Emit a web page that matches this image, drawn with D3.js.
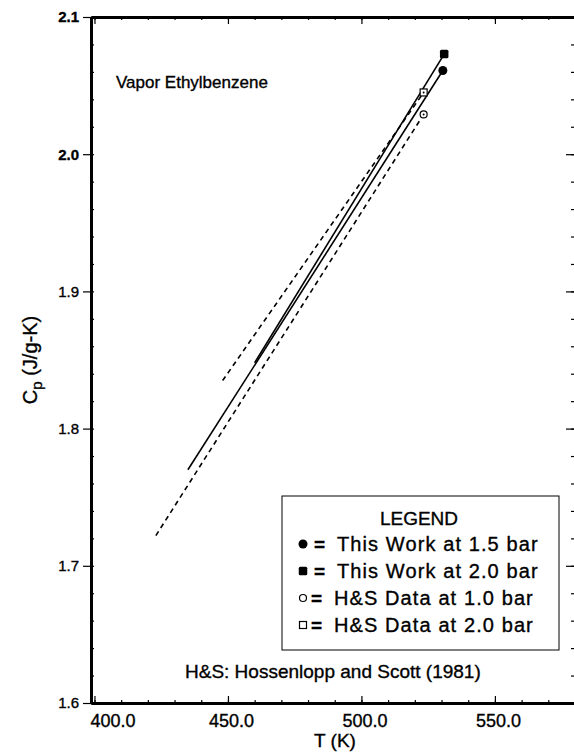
<!DOCTYPE html>
<html lang="en">
<head>
    <meta charset="UTF-8">
    <title>Vapor Ethylbenzene Cp</title>
    <script src="https://d3js.org/d3.v7.min.js"></script>
    <style>
        body { margin: 0; background: #fff; }
        svg { display: block; font-family: "Liberation Sans", Arial, sans-serif; }
        svg text { fill: #000; stroke: #000; stroke-width: 0.35px; }
        .domain { stroke: #000; stroke-width: 3px; }
        .tick line { stroke: #000; stroke-width: 1.2px; }
        .line { fill: none; stroke: #000; stroke-width: 1.6px; }
        .dashed { stroke-dasharray: 5,4; }
    </style>
</head>
<body>
    <svg id="chart" width="574" height="752"></svg>

    <script>
        // series: [start, end] for T (K) and Cp (J/g-K)
        const twT15 = [435, 530.5];
        const twCp15 = [1.770, 2.061];
        const twT20 = [460, 531];
        const twCp20 = [1.848, 2.073];
        const hsT10 = [423, 523.3];
        const hsCp10 = [1.722, 2.029];
        const hsT20 = [448, 523.3];
        const hsCp20 = [1.835, 2.045];

        const legendLabels = ["This Work at 1.5 bar", "This Work at 2.0 bar",
                              "H&S Data at 1.0 bar", "H&S Data at 2.0 bar"];
        const xTicks = [400, 450, 500, 550];
        const xMinor = d3.range(400, 581, 10);
        const yTicks = [1.6, 1.7, 1.8, 1.9, 2.0, 2.1];
        const yMinor = d3.range(1.6, 2.1001, 0.02);

        const margin = {top: 17, right: 0, bottom: 49, left: 91};
        const width = 575 - margin.left;
        const height = 703 - margin.top;

        const x = d3.scaleLinear().domain([398.7, 580]).range([0, width]);
        const y = d3.scaleLinear().domain([1.6, 2.1]).range([height, 0]);

        const svg = d3.select("#chart");
        const g = svg.append("g").attr("transform", `translate(${margin.left},${margin.top})`);

        // minor ticks (inside the frame)
        g.append("g").attr("transform", `translate(0,${height})`)
            .call(d3.axisBottom(x).tickValues(xMinor).tickSize(-3).tickSizeOuter(0).tickFormat(""));
        g.append("g")
            .call(d3.axisTop(x).tickValues(xMinor).tickSize(-3).tickSizeOuter(0).tickFormat(""));
        g.append("g")
            .call(d3.axisLeft(y).tickValues(yMinor).tickSize(-3).tickSizeOuter(0).tickFormat(""));
        // right side: frame edge falls just outside the picture, only ticks show
        const rMinor = g.append("g").attr("transform", `translate(${width},0)`)
            .call(d3.axisRight(y).tickValues(yMinor).tickSize(-4).tickSizeOuter(0).tickFormat(""));
        rMinor.select(".domain").remove();

        // major ticks
        const xAxis = g.append("g").attr("transform", `translate(0,${height})`)
            .call(d3.axisBottom(x).tickValues(xTicks).tickSize(-7).tickSizeOuter(0)
                .tickPadding(11).tickFormat(d3.format(".1f")));
        xAxis.selectAll("text").attr("font-size", 18).attr("font-family", null).attr("dx", 3);
        xAxis.selectAll("text").filter(d => d === 400).attr("dx", 18);

        g.append("g")
            .call(d3.axisTop(x).tickValues(xTicks).tickSize(-7).tickSizeOuter(0).tickFormat(""));

        const yAxis = g.append("g")
            .call(d3.axisLeft(y).tickValues(yTicks).tickSize(8).tickSizeOuter(0)
                .tickPadding(4).tickFormat(d3.format(".1f")));
        yAxis.selectAll("text").attr("font-size", 15).attr("font-family", null)
            .attr("font-weight", d => d >= 2.0 ? "bold" : null);

        const rMajor = g.append("g").attr("transform", `translate(${width},0)`)
            .call(d3.axisRight(y).tickValues(yTicks).tickSize(-9).tickSizeOuter(0).tickFormat(""));
        rMajor.select(".domain").remove();

        // lines
        const line = d3.line().x(d => x(d[0])).y(d => y(d[1]));
        const series = [
            {T: twT15, Cp: twCp15, dashed: false, sym: "circle", fill: true},
            {T: twT20, Cp: twCp20, dashed: false, sym: "square", fill: true},
            {T: hsT10, Cp: hsCp10, dashed: true, sym: "circle", fill: false},
            {T: hsT20, Cp: hsCp20, dashed: true, sym: "square", fill: false}
        ];

        function drawSymbol(sel, s, cx, cy) {
            if (s.sym === "circle") {
                sel.append("circle").attr("cx", cx).attr("cy", cy)
                    .attr("r", s.fill ? 4.5 : 3.5)
                    .attr("fill", s.fill ? "#000" : "#fff")
                    .attr("stroke", "#000").attr("stroke-width", s.fill ? 0 : 1.2);
            } else {
                const sz = s.fill ? 8.5 : 7;
                sel.append("rect").attr("x", cx - sz / 2).attr("y", cy - sz / 2)
                    .attr("width", sz).attr("height", sz)
                    .attr("rx", s.fill ? 1.5 : 0)
                    .attr("fill", s.fill ? "#000" : "#fff")
                    .attr("stroke", "#000").attr("stroke-width", s.fill ? 0 : 1.2);
            }
        }

        series.forEach(s => {
            const pts = s.T.map((t, i) => [t, s.Cp[i]]);
            g.append("path").datum(pts)
                .attr("class", "line" + (s.dashed ? " dashed" : ""))
                .attr("d", line);
        });
        series.forEach(s => {
            const last = s.T.length - 1;
            drawSymbol(g, s, x(s.T[last]), y(s.Cp[last]));
            if (!s.fill) {
                g.append("circle").attr("cx", x(s.T[last])).attr("cy", y(s.Cp[last]))
                    .attr("r", 1).attr("fill", "#000");
            }
        });

        // texts
        svg.append("text").attr("x", 116).attr("y", 88)
            .attr("font-size", 17).text("Vapor Ethylbenzene");

        svg.append("text").attr("x", 185).attr("y", 678)
            .attr("font-size", 19).text("H&S: Hossenlopp and Scott (1981)");

        svg.append("text").attr("x", 335).attr("y", 747)
            .attr("text-anchor", "middle").attr("font-size", 19).text("T (K)");

        const yTitle = svg.append("text")
            .attr("transform", "translate(37,360) rotate(-90)")
            .attr("text-anchor", "middle").attr("font-size", 20);
        yTitle.append("tspan").text("C");
        yTitle.append("tspan").attr("font-size", 15).attr("dy", 5).text("p");
        yTitle.append("tspan").attr("dy", -5).text(" (J/g-K)");

        // legend
        const legend = svg.append("g");
        legend.append("rect").attr("x", 282).attr("y", 496)
            .attr("width", 277).attr("height", 154)
            .attr("fill", "#fff").attr("stroke", "#000").attr("stroke-width", 1);
        legend.append("text").attr("x", 419).attr("y", 525)
            .attr("text-anchor", "middle").attr("font-size", 19).text("LEGEND");
        legendLabels.forEach((lab, i) => {
            const cy = 544 + i * 27;
            drawSymbol(legend, series[i], 303, cy);
            legend.append("text").attr("x", i < 2 ? 314 : 311).attr("y", cy + 7)
                .attr("font-size", 19).attr("font-weight", "bold").text("=");
            legend.append("text").attr("x", i < 2 ? 337 : 334).attr("y", cy + 7)
                .attr("font-size", 20).attr("letter-spacing", 1.1).text(lab);
        });
    </script>
</body>
</html>
